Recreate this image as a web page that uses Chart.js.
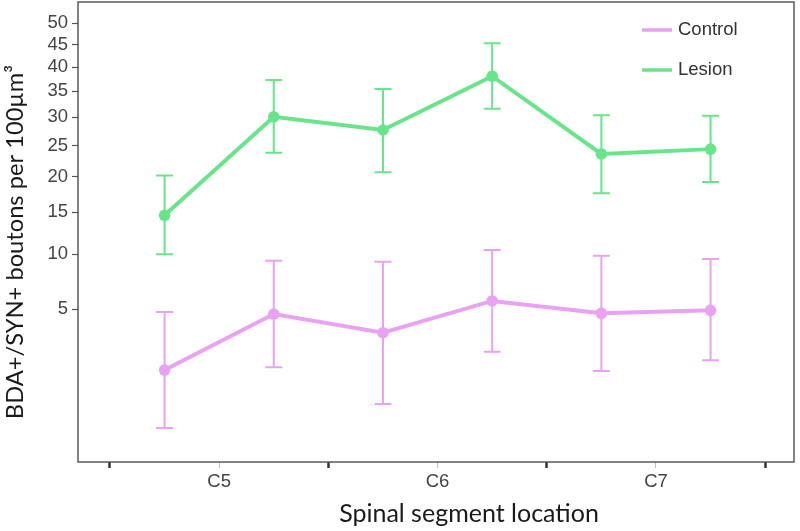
<!DOCTYPE html>
<html>
<head>
<meta charset="utf-8">
<script src="https://cdn.jsdelivr.net/npm/chart.js"></script>
<style>
  html, body { margin: 0; padding: 0; background: #fff; }
  #wrap { width: 800px; height: 531px; }
</style>
</head>
<body>
<div id="wrap"><canvas id="chart" width="800" height="531"></canvas></div>
<script>
// segment labels and measurement sites (two sites per segment)
const segments = ["C5", "C6", "C7"];
const sites = [0.5, 1.5, 2.5, 3.5, 4.5, 5.5];

const controlMean = [1.45, 4.63, 3.37, 5.63, 4.68, 4.90];
const controlLow = [0.05, 1.57, 0.40, 2.29, 1.41, 1.88];
const controlHigh = [4.78, 9.32, 9.22, 10.46, 9.85, 9.50];

const lesionMean = [14.6, 30.1, 27.7, 38.1, 23.6, 24.4];
const lesionLow = [10.0, 23.8, 20.7, 31.6, 17.6, 19.2];
const lesionHigh = [20.2, 37.3, 35.5, 45.3, 30.4, 30.3];

const yTicks = [5, 10, 15, 20, 25, 30, 35, 40, 45, 50];

const pink = "#e9a2f1";
const green = "#68e48a";

// square-root scale (signed so the axis can run a little below zero)
const LinearScale = Chart.registry.getScale("linear");
const sq = v => Math.sign(v) * Math.sqrt(Math.abs(v));
class SqrtScale extends LinearScale {
  buildTicks() {
    return yTicks.map(v => ({ value: v }));
  }
  getPixelForValue(value) {
    const a = sq(this.min), b = sq(this.max);
    return this.getPixelForDecimal((sq(value) - a) / (b - a));
  }
  getValueForPixel(pixel) {
    const a = sq(this.min), b = sq(this.max);
    const t = a + this.getDecimalForPixel(pixel) * (b - a);
    return Math.sign(t) * t * t;
  }
}
SqrtScale.id = "sqrt";
SqrtScale.defaults = {};
Chart.register(SqrtScale);

const points = ys => ys.map((y, i) => ({ x: sites[i], y: y }));

const errorBars = {
  id: "errorBars",
  beforeDatasetsDraw(chart) {
    const { ctx, scales: { x, y } } = chart;
    const sets = [[controlLow, controlHigh, pink], [lesionLow, lesionHigh, green]];
    ctx.save();
    ctx.lineWidth = 2;
    sets.forEach(([lo, hi, col]) => {
      ctx.strokeStyle = col;
      sites.forEach((s, i) => {
        const px = x.getPixelForValue(s);
        const y1 = y.getPixelForValue(lo[i]);
        const y2 = y.getPixelForValue(hi[i]);
        ctx.beginPath();
        ctx.moveTo(px, y1); ctx.lineTo(px, y2);
        ctx.moveTo(px - 8.5, y1); ctx.lineTo(px + 8.5, y1);
        ctx.moveTo(px - 8.5, y2); ctx.lineTo(px + 8.5, y2);
        ctx.stroke();
      });
    });
    ctx.restore();
  }
};

const frameAndText = {
  id: "frameAndText",
  afterDraw(chart) {
    const { ctx, chartArea: a } = chart;
    ctx.save();
    // box round the panel
    ctx.strokeStyle = "#5a5a5a";
    ctx.lineWidth = 1.5;
    ctx.strokeRect(a.left, a.top, a.right - a.left, a.bottom - a.top);

    // legend
    ctx.font = "18.5px 'Liberation Sans', Arial, sans-serif";
    ctx.textBaseline = "middle";
    chart.data.datasets.forEach((ds, i) => {
      const ly = 30 + i * 40;
      ctx.strokeStyle = ds.borderColor;
      ctx.lineWidth = 3.5;
      ctx.beginPath();
      ctx.moveTo(642, ly); ctx.lineTo(672, ly);
      ctx.stroke();
      ctx.fillStyle = "#333";
      ctx.textAlign = "left";
      ctx.fillText(ds.label, 678, ly);
    });

    // axis titles
    ctx.fillStyle = "#1a1a1a";
    ctx.textAlign = "center";
    ctx.textBaseline = "alphabetic";
    ctx.font = "25px Lato, 'Open Sans', sans-serif";
    ctx.fillText("Spinal segment location", 469, 522);
    ctx.font = "23.7px Lato, 'Open Sans', sans-serif";
    ctx.translate(23, 242);
    ctx.rotate(-Math.PI / 2);
    ctx.fillText("BDA+/SYN+ boutons per 100µm³", 0, 0);
    ctx.restore();
  }
};

new Chart(document.getElementById("chart"), {
  type: "line",
  data: {
    datasets: [
      { label: "Control", data: points(controlMean), borderColor: pink, backgroundColor: pink },
      { label: "Lesion", data: points(lesionMean), borderColor: green, backgroundColor: green }
    ]
  },
  options: {
    responsive: false,
    animation: false,
    layout: { autoPadding: false, padding: { top: 2, right: 6, left: 0, bottom: 0 } },
    elements: {
      line: { borderWidth: 4, tension: 0 },
      point: { radius: 5.8, borderWidth: 0, hoverRadius: 5.8 }
    },
    plugins: { legend: { display: false }, tooltip: { enabled: false } },
    scales: {
      x: {
        type: "linear",
        min: -0.293,
        max: 6.264,
        afterBuildTicks: s => { s.ticks = [0, 1, 2, 3, 4, 5, 6].map(v => ({ value: v })); },
        afterFit: s => { s.height = 69; s.paddingLeft = 0; s.paddingRight = 0; },
        grid: {
          drawOnChartArea: false,
          tickLength: 6,
          tickColor: c => (c.tick && c.tick.value % 2 === 0) ? "#333" : "#bbb",
          tickWidth: c => (c.tick && c.tick.value % 2 === 0) ? 2.5 : 1
        },
        border: { display: false },
        ticks: {
          autoSkip: false,
          maxRotation: 0,
          padding: 3,
          color: "#444",
          font: { family: "'Liberation Sans', Arial, sans-serif", size: 18.5 },
          callback: v => (v % 2 === 1) ? segments[(v - 1) / 2] : ""
        }
      },
      y: {
        type: "sqrt",
        min: -0.1225,
        max: 55.16,
        afterFit: s => { s.width = 78; s.paddingTop = 0; s.paddingBottom = 0; },
        grid: { drawOnChartArea: false, tickLength: 6, tickColor: "#555", tickWidth: 1.2 },
        border: { display: false },
        ticks: {
          padding: 4,
          color: "#444",
          font: { family: "'Liberation Sans', Arial, sans-serif", size: 18.5 },
          callback: v => String(v)
        }
      }
    }
  },
  plugins: [errorBars, frameAndText]
});
</script>
</body>
</html>
